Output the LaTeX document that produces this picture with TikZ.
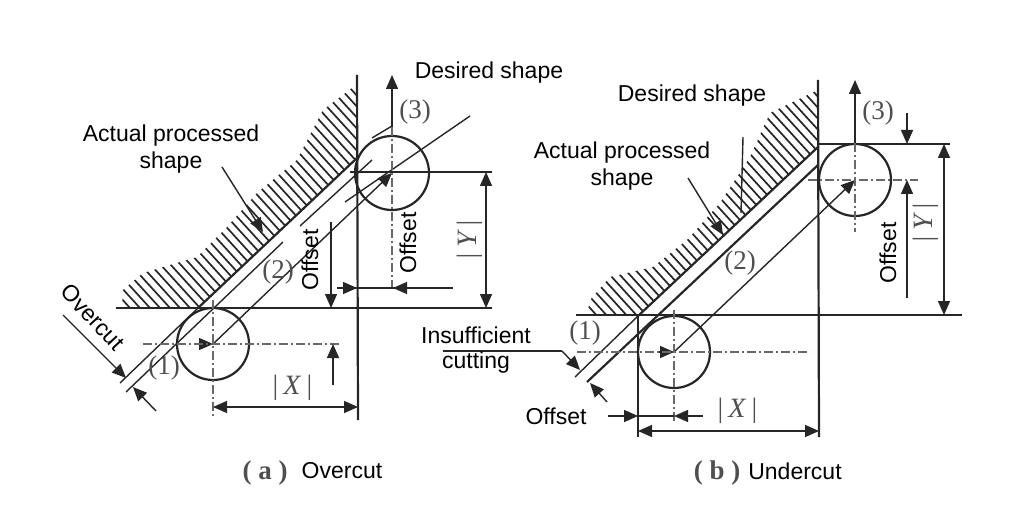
\documentclass[tikz,border=0pt]{standalone}
\usepackage{fontspec}
\setmainfont{Liberation Sans}
\newfontfamily\printfont{Liberation Serif}
\usetikzlibrary{arrows.meta}
\definecolor{ink}{HTML}{262626}
\definecolor{printgray}{HTML}{4F4F4F}
\tikzset{
  >={Triangle[length=14pt,width=12pt]},
  thick line/.style={draw=ink,line width=2.2pt},
  thin line/.style={draw=ink,line width=1.4pt},
  centre line/.style={draw=printgray!85,line width=1.1pt,dash pattern=on 9pt off 3pt on 2pt off 3pt},
  hatch line/.style={draw=ink,line width=1.7pt},
  label/.style={font=\fontsize{23}{24}\selectfont,text=black,inner sep=0pt},
  num/.style={font=\printfont\fontsize{27}{28}\selectfont,text=printgray,inner sep=0pt},
  captext/.style={font=\printfont\bfseries\fontsize{27}{28}\selectfont,text=printgray,inner sep=0pt},
  dimtext/.style={font=\printfont\itshape\fontsize{28}{28}\selectfont,text=printgray,inner sep=0pt},
}
\begin{document}
\begin{tikzpicture}[x=1pt,y=-1pt]
  \useasboundingbox (0,0) rectangle (1024,518);
  % (a)
  \begin{scope}
    \clip (356,85) -- (323,110) -- (297,160) -- (257,193) -- (227,227) -- (197,257)
      -- (143,273) -- (123,290) -- (122,308) -- (198,308) -- (356,158) -- cycle;
    \foreach \c in {-170,-160,...,290}
      \draw[hatch line] (\c,0) -- ({\c+330},363);
  \end{scope}
  \coordinate (aTop) at (357,75);
  \coordinate (aBot) at (358,420);
  \coordinate (aLeft) at (116,308);
  \coordinate (aRight) at (492,308);
  \coordinate (aOne) at (213,344);
  \coordinate (aThree) at (392,173);
  \draw[thick line] (aTop) -- (aBot);
  \draw[thick line] (aLeft) -- (aRight);
  \draw[thick line] (357,158) -- (198,308);
  \draw[thin line] (198,308) -- (120,383);
  \draw[thin line] (126,392) -- (283,242) (300,226) -- (372,160);
  \draw[thin line] (345,202) -- (470,116);
  \draw[thin line] (372,138) -- (392,126);
  \draw[thick line] (aOne) circle[radius=36pt];
  \draw[thick line] (aThree) circle[radius=37pt];
  \draw[thin line,->] (aOne) -- (aThree);
  \draw[thin line,->] (197,344) -- (aOne);
  \draw[centre line] (143,344) -- (340,344);
  \draw[centre line] (213,300) -- (213,417);
  \draw[thin line,->] (392,127) -- (392,75);
  \draw[centre line] (392,127) -- (392,288);
  \draw[thin line] (350,172) -- (492,172);
  \draw[thin line,<->] (486,172) -- (486,308);
  \draw[thin line,->] (331,222) -- (331,308);
  \draw[thin line,->] (333,385) -- (333,344);
  \draw[thin line] (337,288) -- (453,288);
  \draw[thin line,->] (337,288) -- (357,288);
  \draw[thin line,->] (413,288) -- (393,288);
  \draw[thin line,<->] (213,407) -- (358,407);
  \draw[thin line,->] (63,315) -- (126,378);
  \draw[thin line,->] (156,411) -- (133,387);
  \draw[thin line,->] (222,167) -- (263,232);
  \node[label] (aDesired) at (489,73) {Desired shape};
  \node[label] (aActualUp) at (171,136) {Actual processed};
  \node[label] (aActualDn) at (171,163) {shape};
  \node[label,rotate=90] (aOffsetL) at (310,260) {Offset};
  \node[label,rotate=90] (aOffsetR) at (408,243) {Offset};
  \node[label,rotate=-47] (aOvercut) at (93,317) {Overcut};
  \node[num] (aN1) at (164,368) {(1)};
  \node[num] (aN2) at (278,272) {(2)};
  \node[num] (aN3) at (415,112) {(3)};
  \node[dimtext] (aX) at (292,388) {|\,X\,|};
  \node[dimtext,rotate=90] (aY) at (470,240) {|\,Y\,|};
  \node[captext] (aCap) at (265,473) {( a )};
  \node[label] (aCapText) at (342,471) {Overcut};
  % (b)
  \begin{scope}
    \clip (818,90) -- (770,113) -- (750,157) -- (720,203) -- (687,240) -- (653,267)
      -- (610,277) -- (590,300) -- (587,315) -- (638,315) -- (818,147) -- cycle;
    \foreach \c in {290,300,...,760}
      \draw[hatch line] (\c,0) -- ({\c+330},363);
  \end{scope}
  \coordinate (bTop) at (818,80);
  \coordinate (bBot) at (819,437);
  \coordinate (bLeft) at (576,315);
  \coordinate (bRight) at (962,315);
  \coordinate (bOne) at (674,352);
  \coordinate (bThree) at (855,180);
  \draw[thick line] (bTop) -- (bBot);
  \draw[thick line] (bLeft) -- (bRight);
  \draw[thin line] (818,144) -- (950,144);
  \draw[thick line] (818,147) -- (638,316);
  \draw[thin line] (638,316) -- (575,377);
  \draw[thick line] (818,165) -- (587,382);
  \draw[thin line] (638,315) -- (638,437);
  \draw[thick line] (bOne) circle[radius=36pt];
  \draw[thick line] (bThree) circle[radius=36pt];
  \draw[thin line,->] (bOne) -- (bThree);
  \draw[thin line,->] (657,352) -- (bOne);
  \draw[centre line] (577,352) -- (810,352);
  \draw[centre line] (674,310) -- (674,422);
  \draw[thin line,->] (855,143) -- (855,80);
  \draw[centre line] (855,143) -- (855,232);
  \draw[centre line] (808,180) -- (918,180);
  \draw[thin line,<->] (944,144) -- (944,315);
  \draw[thin line,->] (907,113) -- (907,144);
  \draw[thin line,->] (907,298) -- (907,180);
  \draw[thin line,<->] (638,431) -- (819,431);
  \draw[thin line,->] (608,416) -- (638,416);
  \draw[thin line,->] (703,416) -- (674,416);
  \draw[thin line] (638,416) -- (674,416);
  \draw[thin line] (443,351) -- (562,351);
  \draw[thin line,->] (562,351) -- (580,370);
  \draw[thin line,->] (607,402) -- (590,383);
  \draw[thin line] (743,137) -- (741,213);
  \draw[thin line,->] (688,178) -- (723,235);
  \node[label] (bDesired) at (692,96) {Desired shape};
  \node[label] (bActualUp) at (622,153) {Actual processed};
  \node[label] (bActualDn) at (622,180) {shape};
  \node[label,rotate=90] (bOffsetR) at (888,253) {Offset};
  \node[label] (bOffsetB) at (556,416) {Offset};
  \node[label] (bInsuffUp) at (476,335) {Insufficient};
  \node[label] (bInsuffDn) at (476,363) {cutting};
  \node[num] (bN1) at (585,333) {(1)};
  \node[num] (bN2) at (740,263) {(2)};
  \node[num] (bN3) at (878,113) {(3)};
  \node[dimtext] (bX) at (737,411) {|\,X\,|};
  \node[dimtext,rotate=90] (bY) at (926,223) {|\,Y\,|};
  \node[captext] (bCap) at (717,473) {( b )};
  \node[label] (bCapText) at (795,471) {Undercut};
\end{tikzpicture}
\end{document}
